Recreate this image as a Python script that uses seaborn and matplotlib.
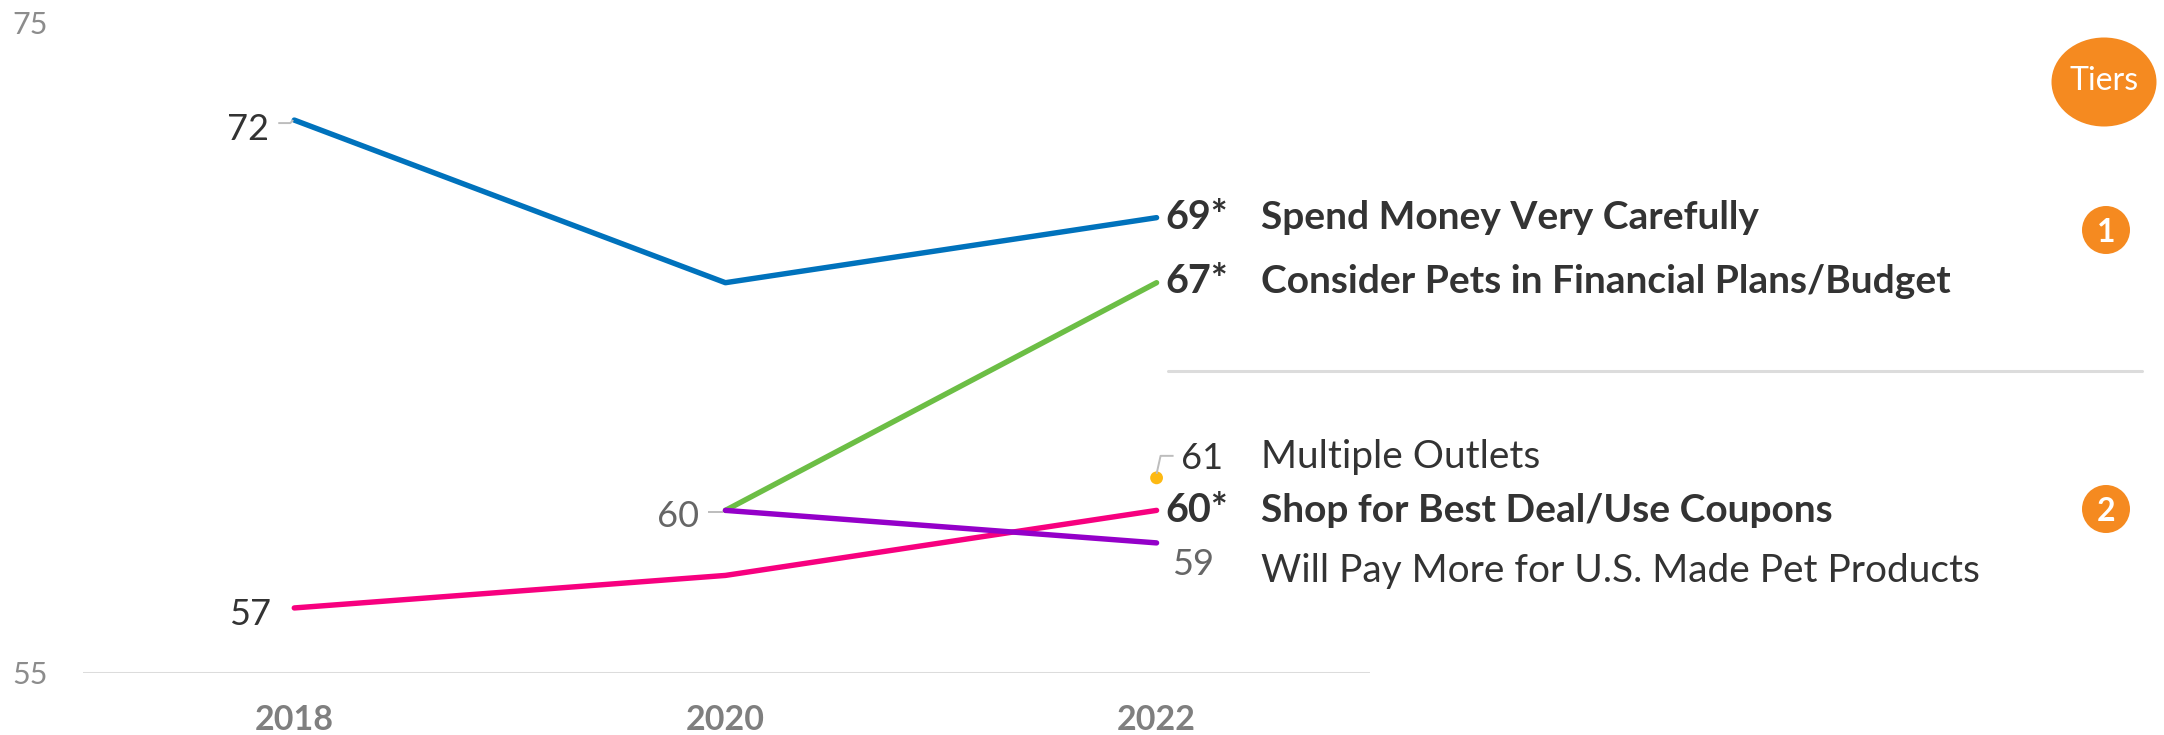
import numpy as np
import pandas as pd
import matplotlib
matplotlib.use("Agg")
import matplotlib.pyplot as plt
import matplotlib.transforms as mtrans
from matplotlib.patches import Ellipse
from matplotlib.lines import Line2D
import seaborn as sns

# ---- data -------------------------------------------------------------
years = [2018, 2020, 2022]
spend_carefully = [72, 67, 69]
consider_pets = [np.nan, 60, 67]
best_deal = [57, 58, 60]
us_made = [np.nan, 60, 59]
multiple_outlets = [np.nan, np.nan, 61]

series_names = [
    "Spend Money Very Carefully",
    "Consider Pets in Financial Plans/Budget",
    "Shop for Best Deal/Use Coupons",
    "Will Pay More for U.S. Made Pet Products",
]
outlets_name = "Multiple Outlets"
significant = {
    "Spend Money Very Carefully": True,
    "Consider Pets in Financial Plans/Budget": True,
    "Shop for Best Deal/Use Coupons": True,
    "Will Pay More for U.S. Made Pet Products": False,
    "Multiple Outlets": False,
}
tier_labels = ["1", "2"]
y_ticks = [55, 75]

colors = {
    "Spend Money Very Carefully": "#0072BC",
    "Consider Pets in Financial Plans/Budget": "#6CBE45",
    "Shop for Best Deal/Use Coupons": "#F7007F",
    "Will Pay More for U.S. Made Pet Products": "#9400C9",
}
outlets_color = "#FDB913"
orange = "#F58A20"
dark = "#333333"
mid = "#666666"

long = pd.DataFrame({
    "year": years * 4,
    "value": spend_carefully + consider_pets + best_deal + us_made,
    "measure": sum([[n] * len(years) for n in series_names], []),
}).dropna()

# ---- figure -----------------------------------------------------------
sns.set_theme(style="white")
plt.rcParams["font.family"] = ["Lato", "DejaVu Sans"]

W, H = 2164, 735
fig = plt.figure(figsize=(W / 100, H / 100), dpi=100)
ax = fig.add_axes([83 / W, 1 - 673 / H, (1370 - 83) / W, (673 - 22.5) / H])

sns.lineplot(
    data=long, x="year", y="value", hue="measure",
    hue_order=series_names, palette=colors, linewidth=3.9,
    legend=False, ax=ax, solid_capstyle="round", clip_on=False,
)
sns.scatterplot(x=[years[-1]], y=[multiple_outlets[-1]], color=outlets_color,
                s=85, edgecolor="none", legend=False, ax=ax, clip_on=False, zorder=5)

ax.set_xlim(2017.02, 2022.99)
ax.set_ylim(55, 75)
ax.axhline(55, color="#dcdcdc", lw=2.2, zorder=0)
for s in ax.spines.values():
    s.set_visible(False)

ax.set_xticks(years)
ax.set_xticklabels([str(y) for y in years], fontsize=24.5, fontweight="bold", color="#7f7f7f")
ax.set_yticks(y_ticks)
ax.set_yticklabels([str(v) for v in y_ticks], fontsize=22, color="#8c8c8c")
ax.tick_params(axis="x", length=0, pad=22)
ax.tick_params(axis="y", length=0, pad=25)
ax.set_xlabel("")
ax.set_ylabel("")


def shifted(dx, dy):
    """Data transform shifted by (dx, dy) pixels."""
    return ax.transData + mtrans.ScaledTranslation(dx / 100, dy / 100, fig.dpi_scale_trans)


def label(x, y, s, dx, dy, **kw):
    ax.text(x, y, s, transform=shifted(dx, dy), va="baseline", clip_on=False, **kw)


def leader(x, y, pts):
    """Thin grey connector drawn as pixel offsets around a data point."""
    verts = np.array([ax.transData.transform((x, y)) + np.array(p) for p in pts])
    fig.add_artist(Line2D(verts[:, 0], verts[:, 1], color="#bdbdbd", lw=1.4,
                          transform=None, solid_capstyle="butt"))


# start-of-series labels
label(years[0], spend_carefully[0], f"{spend_carefully[0]}", -25, -19.5,
      ha="right", fontsize=26, color=dark)
leader(years[0], spend_carefully[0], [(-16, -3), (-4, -3), (-1, 0)])
label(years[0], best_deal[0], f"{best_deal[0]}", -23, -17,
      ha="right", fontsize=26, color=dark)
label(years[1], us_made[1], f"{us_made[1]}", -26, -16.5,
      ha="right", fontsize=26, color=mid)
leader(years[1], us_made[1], [(-17, -1.5), (-2, -1.5)])

# end-of-series labels
end_series = [
    (series_names[0], spend_carefully[-1], -11),
    (series_names[1], consider_pets[-1], -10),
    (series_names[2], best_deal[-1], -11.5),
]
for name, v, dy in end_series:
    star = "*" if significant[name] else ""
    label(years[-1], v, f"{v}{star}", 9, dy, ha="left", fontsize=28.5,
          fontweight="bold", color=dark)
    label(years[-1], v, name, 104, dy, ha="left", fontsize=28,
          fontweight="bold", color=dark)

v = us_made[-1]
label(years[-1], v, f"{v}", 15, -32, ha="left", fontsize=26, color=mid)
label(years[-1], v, series_names[3], 104, -39, ha="left", fontsize=28, color=dark)

v = multiple_outlets[-1]
leader(years[-1], v, [(0, 4), (4, 22), (17, 22)])
label(years[-1], v, f"{v}", 24, 9, ha="left", fontsize=26, color=dark)
label(years[-1], v, outlets_name, 104, 10, ha="left", fontsize=28, color=dark)

# tier separator
fig.add_artist(Line2D([1168 / W, 2142 / W], [1 - 371 / H] * 2, color="#dcdcdc", lw=2.2))

# tier badges
fig.add_artist(Ellipse((2104 / W, 1 - 82 / H), 105 / W, 89 / H,
                       transform=fig.transFigure, facecolor=orange, edgecolor="none"))
fig.text(2104 / W, 1 - 81 / H, "Tiers", ha="center", va="center",
         fontsize=23, color="white")
for lab, cy in zip(tier_labels, [230, 509]):
    fig.add_artist(Ellipse((2106 / W, 1 - cy / H), 48 / W, 48 / H,
                           transform=fig.transFigure, facecolor=orange, edgecolor="none"))
    fig.text(2106 / W, 1 - cy / H, lab, ha="center", va="center_baseline",
             fontsize=23, fontweight="bold", color="white")

fig.savefig("out.png", dpi=100, facecolor="white")
